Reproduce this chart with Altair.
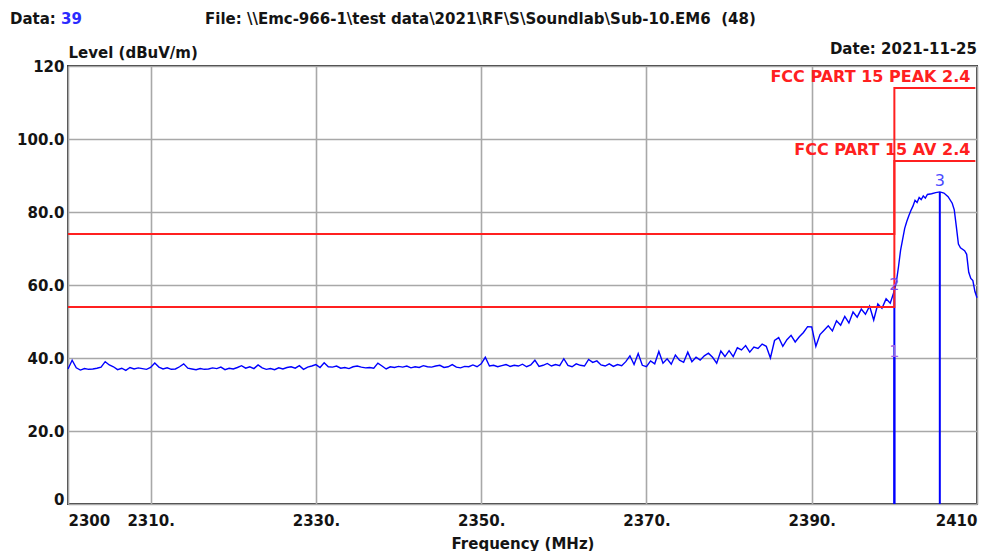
import altair as alt
import pandas as pd

# ---------------- data ----------------
# trace sampled every 0.5 MHz from 2300.0 to 2399.5
trace_start = 2300.0
trace_step = 0.5
trace_levels_low = [
    37.0, 39.4, 37.3, 36.7, 37.1, 36.9, 37.0, 37.2, 37.5, 39.0, 38.1, 37.6, 36.8, 37.2, 36.6, 37.4, 37.0, 37.3, 37.1, 36.9,
    37.4, 38.6, 37.5, 37.0, 37.3, 36.9, 37.0, 37.6, 38.4, 37.2, 37.0, 36.8, 37.1, 36.9, 37.0, 37.3, 37.1, 37.5, 36.8, 37.2,
    37.0, 37.4, 37.9, 37.2, 37.6, 37.1, 38.1, 37.3, 36.9, 37.1, 36.8, 37.3, 37.0, 37.4, 37.6, 37.2, 37.9, 36.9, 37.5, 37.8,
    38.2, 37.4, 38.7, 37.6, 37.5, 37.8, 37.2, 37.4, 37.1, 37.6, 37.8, 37.5, 37.3, 37.4, 37.2, 38.6, 37.8, 37.0, 37.6, 37.4,
    37.7, 37.5, 37.8, 37.3, 37.6, 37.4, 37.9, 37.6, 37.5, 37.8, 38.0, 37.4, 37.6, 38.2, 37.5, 37.3, 37.7, 37.6, 38.1, 37.6,
    38.4, 40.2, 37.8, 38.0, 37.6, 37.9, 38.2, 37.7, 38.0, 37.8, 38.3, 37.6, 38.1, 39.4, 37.7, 38.0, 38.5, 37.8, 38.2, 37.9,
    39.8, 38.0, 37.6, 38.4, 38.0, 37.8, 39.6, 38.8, 39.2, 38.1, 37.8, 38.4, 37.7, 38.2, 37.9, 39.0, 40.6, 38.2, 41.2, 38.0,
    37.6, 39.2, 38.4, 41.8, 38.6, 39.8, 38.3, 40.8, 39.4, 38.8, 41.6, 39.0, 40.2, 39.4, 40.6, 41.3, 40.2, 38.6, 41.9, 40.4,
    42.0, 40.4, 42.8, 42.2, 43.4, 41.6, 43.0, 42.6, 43.8, 43.2, 40.0, 44.8, 45.6, 43.2, 45.0, 46.2, 44.4, 45.8, 47.0, 48.6,
    48.5, 43.2, 46.4, 47.6, 48.8, 47.4, 50.2, 49.0, 51.4, 49.6, 52.6, 51.2, 53.4, 52.0, 54.2, 50.4, 54.8, 53.6, 56.2, 55.0,
]
# band-edge / fundamental region read at finer steps
peak_freqs = [2400.0, 2400.25, 2400.5, 2400.75, 2401.0, 2401.25, 2401.5, 2401.75, 2402.0, 2402.25,
              2402.5, 2402.75, 2403.0, 2403.25, 2403.5, 2403.75, 2404.0, 2404.5, 2405.0, 2405.5,
              2406.0, 2406.5, 2407.0, 2407.25, 2407.5, 2407.75, 2408.0, 2408.5, 2408.75, 2409.0,
              2409.25, 2409.5, 2409.75, 2410.0]
peak_levels = [58.4, 61.0, 65.0, 69.5, 72.5, 75.5, 77.4, 79.0, 80.4, 81.6,
               83.2, 82.6, 84.0, 83.4, 84.4, 83.8, 84.8, 85.0, 85.3, 85.5,
               85.2, 84.2, 82.4, 80.6, 76.0, 71.2, 70.2, 69.4, 68.4, 63.5,
               61.8, 61.2, 58.2, 56.5]

x_ticks = [2300, 2310, 2330, 2350, 2370, 2390, 2410]
y_ticks = [0, 20, 40, 60, 80, 100, 120]

limit_freqs = [2300, 2400, 2400, 2409.8]
limit_peak = [74, 74, 114, 114]
limit_av = [54, 54, 94, 94]
limit_names = ["FCC PART 15 PEAK 2.4", "FCC PART 15 AV 2.4"]

marker_names = ["1", "2", "3"]
marker_freqs = [2400.0, 2400.0, 2405.5]
marker_levels = [40.3, 58.6, 85.5]
marker_label_levels = [40.3, 58.6, 87.1]
marker_colors = ["#a064e6", "#7c48e8", "#4b4bff"]

data_count = "39"
file_text = "File: \\\\Emc-966-1\\test data\\2021\\RF\\S\\Soundlab\\Sub-10.EM6 \u00a0(48)"
date_text = "Date: 2021-11-25"

# ---------------- tables ----------------
trace_freqs = [trace_start + i * trace_step for i in range(len(trace_levels_low))] + peak_freqs
trace_df = pd.DataFrame({"f": trace_freqs, "v": trace_levels_low + peak_levels})

lim_rows = []
for name, vals in zip(limit_names, [limit_peak, limit_av]):
    for i, (f, v) in enumerate(zip(limit_freqs, vals)):
        lim_rows.append({"name": name, "f": f, "v": v, "idx": i})
lim_df = pd.DataFrame(lim_rows)
lim_lab_df = pd.DataFrame({"name": limit_names, "f": [limit_freqs[-1]] * 2,
                           "v": [limit_peak[-1], limit_av[-1]]})

mk_df = pd.DataFrame({"name": marker_names, "f": marker_freqs, "v": marker_levels,
                      "lv": marker_label_levels, "c": marker_colors})

FONT = "DejaVu Sans"
TXT = "#141414"

x_scale = alt.Scale(domain=[2300, 2410], nice=False, zero=False)
y_scale = alt.Scale(domain=[0, 120], nice=False, zero=True)

x_axis = alt.Axis(
    values=x_ticks,
    labelExpr="datum.value == 2300 || datum.value == 2410 ? '' + datum.value : datum.value + '.'",
    labelAlign={"condition": [{"test": "datum.value == 2300", "value": "left"},
                              {"test": "datum.value == 2410", "value": "right"}],
                "value": "center"},
    labelFlush=False, labelOverlap=False, labelBound=False,
    labelPadding=9, labelBaseline="top",
    ticks=False, domain=False, grid=True,
    title="Frequency (MHz)", titleBaseline="alphabetic", titleY=44,
)
y_axis = alt.Axis(
    values=y_ticks,
    labelExpr="datum.value == 0 || datum.value == 120 ? '' + datum.value : format(datum.value, '.1f')",
    labelBaseline={"condition": {"test": "datum.value == 0", "value": "alphabetic"}, "value": "middle"},
    labelPadding=4, labelOverlap=False, labelFlush=False,
    ticks=False, domain=False, grid=True,
    title="Level (dBuV/m)", titleAngle=0, titleAlign="left", titleBaseline="alphabetic",
    titleX=0, titleY=-9,
)

X = alt.X("f:Q", scale=x_scale, axis=x_axis)
Y = alt.Y("v:Q", scale=y_scale, axis=y_axis)

trace = alt.Chart(trace_df).mark_line(color="#0000ff", strokeWidth=1.4).encode(x=X, y=Y)

mk_rules = alt.Chart(mk_df).mark_rule(color="#0000ff", strokeWidth=2).encode(
    x=X, y=Y, y2=alt.datum(0))

limits = alt.Chart(lim_df).mark_line(color="#ff2020", strokeWidth=2).encode(
    x=X, y=Y, detail="name:N", order="idx:Q")

lim_labels = alt.Chart(lim_lab_df).mark_text(
    align="right", baseline="alphabetic", dx=-5, dy=-6, color="#ff2020",
    font=FONT, fontWeight="bold", fontSize=16).encode(x=X, y=Y, text="name:N")

mk_labels = alt.Chart(mk_df).mark_text(
    align="center", baseline="alphabetic", font=FONT, fontSize=16).encode(
    x=X, y=alt.Y("lv:Q", scale=y_scale, axis=y_axis), text="name:N",
    color=alt.Color("c:N", scale=None))

hdr = pd.DataFrame({"a": ["Data: "], "b": [data_count], "c": [file_text], "d": [date_text]})
hdr_style = dict(font=FONT, fontWeight="bold", fontSize=15, baseline="alphabetic")
h1 = alt.Chart(hdr).mark_text(align="left", color=TXT, **hdr_style).encode(
    x=alt.value(-58), y=alt.value(-42), text="a:N")
h2 = alt.Chart(hdr).mark_text(align="left", color="#2b2bff", **hdr_style).encode(
    x=alt.value(-7), y=alt.value(-42), text="b:N")
h3 = alt.Chart(hdr).mark_text(align="left", color=TXT, **hdr_style).encode(
    x=alt.value(137), y=alt.value(-42), text="c:N")
h4 = alt.Chart(hdr).mark_text(align="right", color=TXT, **hdr_style).encode(
    x=alt.value(909), y=alt.value(-12), text="d:N")

chart = alt.layer(trace, mk_rules, limits, lim_labels, mk_labels, h1, h2, h3, h4).properties(
    width=909, height=438,
    padding={"left": 60, "top": 58, "right": 2, "bottom": 47},
    autosize=alt.AutoSizeParams(type="none"),
    background="white",
).configure_view(
    stroke="#383838", strokeWidth=2
).configure_axis(
    labelFont=FONT, labelFontWeight="bold", labelFontSize=15, labelColor=TXT,
    titleFont=FONT, titleFontWeight="bold", titleFontSize=15, titleColor=TXT,
    gridColor="#a8a8a8", gridWidth=1.6, gridOpacity=1,
)

chart.save("out.html", embed_options={"renderer": "svg", "actions": False})
